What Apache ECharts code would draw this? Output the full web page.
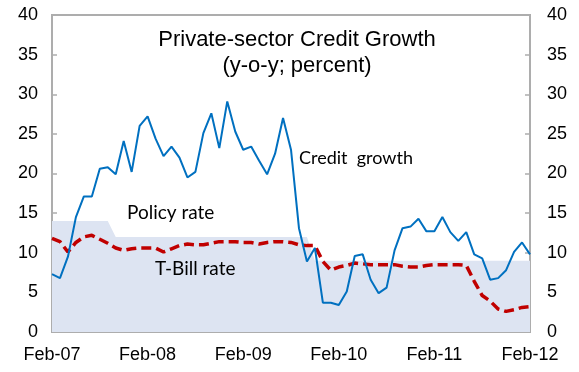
<!DOCTYPE html>
<html>
<head>
<meta charset="utf-8">
<script src="https://cdn.jsdelivr.net/npm/echarts@6/dist/echarts.min.js"></script>
<style>
  html, body { margin: 0; padding: 0; background: #fff; }
  #chart { width: 579px; height: 372px; }
</style>
</head>
<body>
<div id="chart"></div>
<script>
// Monthly observations, Feb-07 through Feb-12
const months = [
  "Feb-07","Mar-07","Apr-07","May-07","Jun-07","Jul-07","Aug-07","Sep-07","Oct-07","Nov-07","Dec-07","Jan-08",
  "Feb-08","Mar-08","Apr-08","May-08","Jun-08","Jul-08","Aug-08","Sep-08","Oct-08","Nov-08","Dec-08","Jan-09",
  "Feb-09","Mar-09","Apr-09","May-09","Jun-09","Jul-09","Aug-09","Sep-09","Oct-09","Nov-09","Dec-09","Jan-10",
  "Feb-10","Mar-10","Apr-10","May-10","Jun-10","Jul-10","Aug-10","Sep-10","Oct-10","Nov-10","Dec-10","Jan-11",
  "Feb-11","Mar-11","Apr-11","May-11","Jun-11","Jul-11","Aug-11","Sep-11","Oct-11","Nov-11","Dec-11","Jan-12",
  "Feb-12"
];

// Private-sector credit growth, y-o-y percent
const creditGrowth = [
  7.3, 6.8, 9.5, 14.5, 17.1, 17.1, 20.6, 20.8, 19.9, 24.1, 20.2, 26.0,
  27.2, 24.4, 22.2, 23.4, 22.0, 19.5, 20.2, 25.1, 27.6, 23.2, 29.1, 25.3,
  23.0, 23.4, 21.6, 19.9, 22.5, 27.0, 23.0, 13.1, 8.9, 10.6, 3.7, 3.7,
  3.4, 5.1, 9.6, 9.8, 6.6, 4.9, 5.6, 10.3, 13.1, 13.3, 14.3, 12.7,
  12.7, 14.5, 12.6, 11.5, 12.6, 9.8, 9.3, 6.6, 6.8, 7.8, 10.1, 11.3,
  9.8
];

// Treasury bill rate, percent
const tBillRate = [
  11.8, 11.4, 10.1, 11.3, 12.0, 12.2, 11.7, 11.2, 10.6, 10.3, 10.5, 10.6,
  10.6, 10.6, 10.1, 10.5, 10.9, 11.1, 11.0, 11.0, 11.2, 11.4, 11.4, 11.4,
  11.3, 11.3, 11.1, 11.3, 11.4, 11.4, 11.3, 11.0, 10.9, 10.9, 8.9, 7.8,
  8.2, 8.4, 8.7, 8.6, 8.5, 8.5, 8.5, 8.5, 8.3, 8.2, 8.2, 8.4,
  8.5, 8.5, 8.5, 8.5, 8.4, 6.4, 4.6, 3.9, 2.9, 2.6, 2.8, 3.1,
  3.2
];

// Policy rate, percent
const policyRate = [
  14, 14, 14, 14, 14, 14, 14, 14, 12, 12, 12, 12,
  12, 12, 12, 12, 12, 12, 12, 12, 12, 12, 12, 12,
  12, 12, 12, 12, 12, 12, 12, 12, 12, 9, 9, 9,
  9, 9, 9, 9, 9, 9, 9, 9, 9, 9, 9, 9,
  9, 9, 9, 9, 9, 9, 9, 9, 9, 9, 9, 9,
  9
];

const yTicks = { min: 0, max: 40, interval: 5 };

const axisGray = '#ADADAD';
const sansFont = '"Liberation Sans", Arial, sans-serif';
const noteFont = 'Lato, "Open Sans", sans-serif';

const valueAxis = (pos) => ({
  type: 'value',
  position: pos,
  min: yTicks.min,
  max: yTicks.max,
  interval: yTicks.interval,
  splitLine: { show: false },
  axisLine: { show: true, lineStyle: { color: axisGray, width: 2 } },
  axisTick: { show: true, inside: true, length: 5, lineStyle: { color: axisGray, width: 1.5 } },
  axisLabel: { color: '#000', fontSize: 18, fontFamily: sansFont, margin: pos === 'left' ? 14 : 17 }
});

const chart = echarts.init(document.getElementById('chart'), null, { renderer: 'canvas' });

chart.setOption({
  animation: false,
  grid: {
    left: 52, right: 49, top: 15, bottom: 40,
    show: true, borderColor: axisGray, borderWidth: 2, backgroundColor: 'transparent'
  },
  title: [
    {
      text: 'Private-sector Credit Growth',
      left: 292, top: 24, textAlign: 'center',
      textStyle: { fontFamily: sansFont, fontSize: 22, fontWeight: 'normal', color: '#000' }
    },
    {
      text: '(y-o-y; percent)',
      left: 292, top: 50, textAlign: 'center',
      textStyle: { fontFamily: sansFont, fontSize: 22, fontWeight: 'normal', color: '#000' }
    }
  ],
  graphic: [
    { type: 'text', z: 100, left: 299, top: 149, style: { text: 'Credit  growth', font: '18px ' + noteFont, fill: '#000' } },
    { type: 'text', z: 100, left: 127, top: 203, style: { text: 'Policy rate', font: '19px ' + noteFont, fill: '#000' } },
    { type: 'text', z: 100, left: 155, top: 259, style: { text: 'T-Bill rate', font: '19px ' + noteFont, fill: '#000' } }
  ],
  xAxis: {
    type: 'category',
    data: months,
    boundaryGap: false,
    axisLine: { show: true, lineStyle: { color: axisGray, width: 2 } },
    axisTick: { show: true, inside: true, length: 5, interval: 11, lineStyle: { color: axisGray, width: 1.5 } },
    axisLabel: { interval: 11, color: '#000', fontSize: 18, fontFamily: sansFont, margin: 14 },
    splitLine: { show: false }
  },
  yAxis: [valueAxis('left'), valueAxis('right')],
  series: [
    {
      name: 'Policy rate',
      type: 'line',
      data: policyRate,
      symbol: 'none',
      lineStyle: { width: 0 },
      areaStyle: { color: '#DDE4F2', opacity: 1 },
      z: 1
    },
    {
      name: 'T-Bill rate',
      type: 'line',
      data: tBillRate,
      symbol: 'none',
      lineStyle: { color: '#C00000', width: 3.5, type: [10, 5] },
      z: 2
    },
    {
      name: 'Credit growth',
      type: 'line',
      data: creditGrowth,
      symbol: 'none',
      lineStyle: { color: '#0070C0', width: 2 },
      z: 3
    }
  ]
});
</script>
</body>
</html>
